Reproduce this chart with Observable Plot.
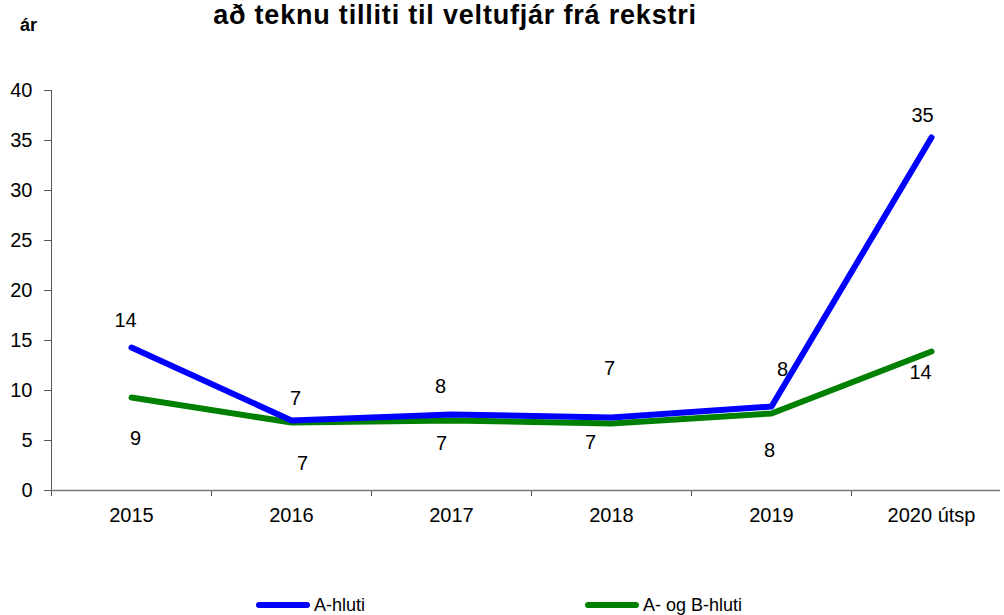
<!DOCTYPE html>
<html>
<head>
<meta charset="utf-8">
<script src="https://cdn.jsdelivr.net/npm/d3@7"></script>
<script src="https://cdn.jsdelivr.net/npm/@observablehq/plot@0.6"></script>
<style>
  body { margin: 0; background: #fff; font-family: "Liberation Sans", Arial, sans-serif; }
  #wrap { position: relative; width: 1004px; height: 615px; overflow: hidden; }
  #unit { position: absolute; left: 20px; top: 16px; font-size: 18px; font-weight: bold; line-height: 18px; color: #000; }
  #title { position: absolute; left: 0; width: 910px; top: 2px; text-align: center; font-size: 27px; letter-spacing: 0.8px; font-weight: bold; line-height: 27px; color: #000; }
  #chart { position: absolute; left: 0; top: 60px; }
  .leg { position: absolute; top: 594px; font-size: 18px; line-height: 22px; color: #000; display: flex; align-items: center; }
  .sw { display: inline-block; width: 54px; height: 6px; border-radius: 3px; margin-right: 4px; }
</style>
</head>
<body>
<div id="wrap">
  <div id="unit">ár</div>
  <div id="title">að teknu tilliti til veltufjár frá rekstri</div>
  <div id="chart"></div>
  <div class="leg" style="left:256px"><span class="sw" style="background:#0000ff"></span>A-hluti</div>
  <div class="leg" style="left:585px"><span class="sw" style="background:#008000"></span>A- og B-hluti</div>
</div>
<script>
const categories = ["2015", "2016", "2017", "2018", "2019", "2020 útsp"];
const aHluti = [14.3, 7.0, 7.6, 7.3, 8.4, 35.3];
const abHluti = [9.3, 6.8, 7.0, 6.7, 7.7, 13.9];
const yTicks = [0, 5, 10, 15, 20, 25, 30, 35, 40];

// label offsets (pixels) for the data labels, as placed in the original
const offA = [[-6, -27], [4, -22], [-11, -28], [-2, -49], [11, -37], [-9, -22]];
const offAB = [[4, 41], [11, 41], [-10, 23], [-21, 19], [-2, 37], [-11, 21]];

const dataA = categories.map((c, i) => ({cat: c, v: aHluti[i]}));
const dataAB = categories.map((c, i) => ({cat: c, v: abHluti[i]}));

const bw = 160;
const labelMarks = (data, off) => data.map((d, i) =>
  Plot.text([d], {x: "cat", y: "v", text: d => String(Math.round(d.v)), dx: off[i][0], dy: off[i][1], fontSize: 20, fill: "#000"}));

const chart = Plot.plot({
  width: 1004,
  height: 490,
  marginTop: 30,
  marginBottom: 60,
  marginLeft: 51,
  marginRight: 4,
  style: {fontFamily: "'Liberation Sans', Arial, sans-serif", background: "#fff", color: "#000"},
  x: {type: "band", domain: categories, range: [51, 51 + bw * categories.length], padding: 0, label: null},
  y: {domain: [0, 40], label: null},
  marks: [
    Plot.axisY({ticks: yTicks, tickSize: 7, tickPadding: 12, fontSize: 20, stroke: "#555", label: null}),
    Plot.axisX({tickSize: 0, tickPadding: 17, fontSize: 20, label: null}),
    Plot.ruleX([categories[0]], {x: d => d, dx: -bw / 2, y1: 0, y2: 40, stroke: "#555"}),
    Plot.ruleX(categories, {x: d => d, dx: -bw / 2, y1: 0, y2: -0.6, stroke: "#555", clip: false}),
    Plot.ruleY([0], {stroke: "#777", strokeWidth: 1.5}),
    Plot.line(dataAB, {x: "cat", y: "v", stroke: "#008000", strokeWidth: 6, strokeLinecap: "round", strokeLinejoin: "round"}),
    Plot.line(dataA, {x: "cat", y: "v", stroke: "#0000ff", strokeWidth: 6, strokeLinecap: "round", strokeLinejoin: "round"}),
    ...labelMarks(dataA, offA),
    ...labelMarks(dataAB, offAB)
  ]
});
document.getElementById("chart").appendChild(chart);
</script>
</body>
</html>
